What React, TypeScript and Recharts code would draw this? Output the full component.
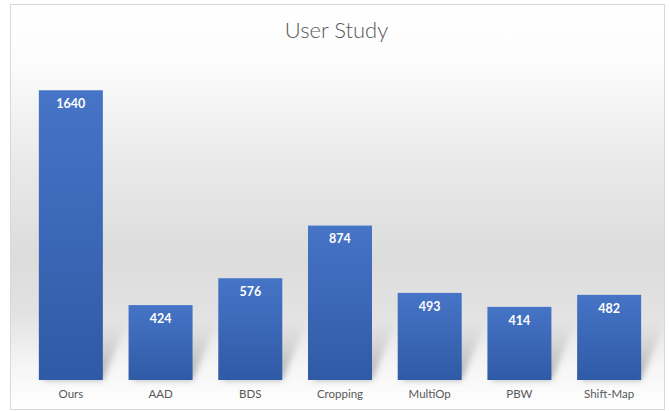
import { Bar, BarChart, LabelList, XAxis, YAxis } from "recharts"

// categories and counts
const methods = ["Ours", "AAD", "BDS", "Cropping", "MultiOp", "PBW", "Shift-Map"]
const votes = [1640, 424, 576, 874, 493, 414, 482]

const data = methods.map((name, i) => ({ name, votes: votes[i] }))

const FONT = "Lato, 'Open Sans', sans-serif"

function ShadowBar(props: any) {
  const { x, y, width, height } = props
  if (!height) return null
  const b = y + height
  const dy = Math.min(62, height)
  const dx = 26
  const pts = `${x + 4},${b} ${x + width},${b} ${x + width + dx},${b - dy} ${x + dx},${b - dy}`
  return (
    <g>
      <polygon points={pts} fill="url(#shadowFade)" filter="url(#softBlur)" />
      <rect x={x} y={y} width={width} height={height} fill="url(#barFill)" />
    </g>
  )
}

export default function App() {
  return (
    <div style={{ position: "absolute", left: 0, top: 0, width: 669, height: 411, background: "#fff" }}>
      <svg width={0} height={0} style={{ position: "absolute" }}>
        <defs>
          <linearGradient id="barFill" x1="0" y1="0" x2="0" y2="1">
            <stop offset="0%" stopColor="#4674c6" />
            <stop offset="100%" stopColor="#2f5aa6" />
          </linearGradient>
          <linearGradient id="shadowFade" x1="0" y1="1" x2="0" y2="0">
            <stop offset="0%" stopColor="#6b6b6b" stopOpacity={0.55} />
            <stop offset="100%" stopColor="#9a9a9a" stopOpacity={0} />
          </linearGradient>
          <filter id="softBlur" x="-50%" y="-50%" width="200%" height="200%">
            <feGaussianBlur stdDeviation="3" />
          </filter>
        </defs>
      </svg>
      <div
        style={{
          position: "absolute",
          left: 10,
          top: 4,
          width: 655,
          height: 406,
          boxSizing: "border-box",
          border: "1px solid #d9d9d9",
          background:
            "linear-gradient(to bottom, #ffffff 0%, #fcfcfc 14%, #e9e9e9 40%, #dcdcdc 62%, #e2e2e2 76%, #f6f6f6 90%, #ffffff 100%)",
        }}
      />
      <div
        style={{
          position: "absolute",
          left: 2,
          top: 16,
          width: 669,
          textAlign: "center",
          fontFamily: FONT,
          fontSize: 22,
          fontWeight: 300,
          color: "#595959",
        }}
      >
        User Study
      </div>
      <div style={{ position: "absolute", left: 0, top: 0 }}>
        <BarChart
          width={669}
          height={411}
          data={data}
          margin={{ top: 62, right: 15, bottom: 6, left: 26 }}
          barCategoryGap={12.85}
        >
          <XAxis
            dataKey="name"
            height={25}
            axisLine={false}
            tickLine={false}
            tickMargin={4}
            tick={{ fill: "#595959", fontSize: 11.5, fontFamily: FONT }}
            interval={0}
          />
          <YAxis hide domain={[0, 1800]} />
          <Bar dataKey="votes" shape={ShadowBar} isAnimationActive={false}>
            <LabelList
              dataKey="votes"
              position="insideTop"
              offset={9}
              fill="#ffffff"
              fontSize={12.5}
              fontWeight="bold"
              fontFamily={FONT}
            />
          </Bar>
        </BarChart>
      </div>
    </div>
  )
}
